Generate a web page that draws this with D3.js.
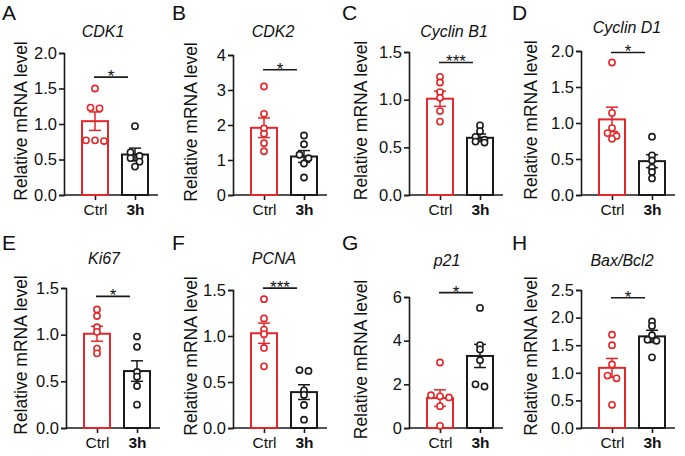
<!DOCTYPE html>
<html><head><meta charset="utf-8">
<script src="https://cdn.jsdelivr.net/npm/d3@7"></script>
<style>body{margin:0;background:#fff} svg{display:block;font-family:"Liberation Sans",Arial,sans-serif}</style>
</head><body><svg width="685" height="456"></svg>
<script>
const panelLetters = ["A","B","C","D","E","F","G","H"];
const genes = ["CDK1","CDK2","Cyclin B1","Cyclin D1","Ki67","PCNA","p21","Bax/Bcl2"];
const groups = ["Ctrl","3h"];
const yMax = [2,4,1.5,2,1.5,1.5,6,2.5];
const yStep = [0.5,1,0.5,0.5,0.5,0.5,2,0.5];
const ctrlMean = [1.04,1.92,1.01,1.05,1.01,1.03,1.37,1.09];
const ctrlSem  = [0.13,0.28,0.08,0.17,0.08,0.11,0.38,0.17];
const h3Mean   = [0.57,1.10,0.60,0.47,0.61,0.39,3.30,1.66];
const h3Sem    = [0.09,0.17,0.04,0.09,0.11,0.08,0.53,0.11];
const ctrlPoints = [
  [1.50,1.23,1.22,0.77,0.77,0.76],
  [3.10,2.32,1.90,1.75,1.48,1.25],
  [1.24,1.18,1.08,1.02,0.88,0.77],
  [1.84,1.14,0.93,0.86,0.82,0.78],
  [1.27,1.20,1.08,1.03,0.85,0.80],
  [1.40,1.19,1.07,1.02,0.87,0.67],
  [3.00,1.50,1.45,1.40,1.00,0.10],
  [1.69,1.50,1.15,0.95,0.90,0.42]];
const h3Points = [
  [0.97,0.60,0.55,0.52,0.47,0.40],
  [1.70,1.45,1.15,1.05,0.90,0.50],
  [0.73,0.67,0.61,0.58,0.56,0.55],
  [0.81,0.55,0.48,0.38,0.32,0.23],
  [0.98,0.87,0.60,0.55,0.45,0.25],
  [0.63,0.62,0.41,0.36,0.25,0.09],
  [5.50,3.80,3.60,3.10,2.00,1.90],
  [1.93,1.85,1.68,1.60,1.58,1.28]];
const sigLabels = ["*","*","***","*","*","***","*","*"];
const sigLevel  = [1.66,3.58,1.39,1.98,1.41,1.52,6.2,2.36];

// layout (positions, not data)
const layout = {
  ox: [0,170,340,510,0,170,340,510],
  oy: [0,0,0,0,228,228,228,228],
  axisX: [64,63,69,71,66,63,69,71],
  yTop: [53,55,52,51,60,62,69,62],
  yBot: [195,195,195,195,200,200,200,200],
  titleDx: [39,40,45,46,38,41,38,41],
  titleY: [37,37,37,33,36,36,38,38],
  letterY: [20,20,20,20,22,22,22,22]
};
const RED = "#e5262a", BLK = "#1a1a1a";
const svg = d3.select("svg");

genes.forEach((gene, i) => {
  const ox = layout.ox[i], oy = layout.oy[i];
  const g = svg.append("g").attr("transform", `translate(${ox},${oy})`);
  const ax = layout.axisX[i];
  const y = d3.scaleLinear().domain([0, yMax[i]]).range([layout.yBot[i], layout.yTop[i]]);
  const x = d3.scalePoint().domain(groups).range([ax + 31, ax + 71]);
  const ticks = d3.range(0, yMax[i] + 1e-9, yStep[i]);
  const fmt = yStep[i] < 1 ? d3.format(".1f") : d3.format("d");

  g.append("text").attr("x", 2).attr("y", layout.letterY[i]).attr("font-size", 21).attr("fill", "#111").text(panelLetters[i]);
  g.append("text").attr("x", ax + layout.titleDx[i]).attr("y", layout.titleY[i])
    .attr("text-anchor", "middle").attr("font-style", "italic").attr("font-size", 16).attr("fill", "#111").text(gene);

  const yAxis = g.append("g").attr("transform", `translate(${ax},0)`)
    .call(d3.axisLeft(y).tickValues(ticks).tickFormat(fmt).tickSize(5).tickPadding(2));
  yAxis.select(".domain").attr("stroke", BLK).attr("stroke-width", 1.6);
  yAxis.selectAll(".tick line").attr("stroke", BLK).attr("stroke-width", 1.6);
  yAxis.selectAll(".tick text").attr("font-size", 16.5).attr("fill", "#111").attr("font-family", "Liberation Sans, Arial, sans-serif");

  const xAxis = g.append("g").attr("transform", `translate(0,${layout.yBot[i]})`)
    .call(d3.axisBottom(x).tickSize(5).tickPadding(4));
  xAxis.select(".domain").attr("d", `M${ax},0H${ax + 94}`).attr("stroke", BLK).attr("stroke-width", 1.6);
  xAxis.selectAll(".tick line").attr("stroke", BLK).attr("stroke-width", 1.6);
  xAxis.selectAll(".tick text").attr("font-size", 15.5).attr("fill", "#111")
    .attr("font-family", "Liberation Sans, Arial, sans-serif")
    .attr("font-weight", d => d === "3h" ? "bold" : "normal");

  const cy = (layout.yTop[i] + layout.yBot[i]) / 2 - 3;
  g.append("text").attr("transform", `translate(27,${cy}) rotate(-90)`)
    .attr("text-anchor", "middle").attr("font-size", 17.5).attr("fill", "#111").text("Relative mRNA level");

  const series = [
    {grp: "Ctrl", mean: ctrlMean[i], sem: ctrlSem[i], pts: ctrlPoints[i], col: RED},
    {grp: "3h", mean: h3Mean[i], sem: h3Sem[i], pts: h3Points[i], col: BLK}
  ];
  const bw = 26;
  series.forEach(s => {
    const cx = x(s.grp);
    g.append("rect").attr("x", cx - bw / 2).attr("y", y(s.mean))
      .attr("width", bw).attr("height", y(0) - y(s.mean))
      .attr("fill", "white").attr("stroke", s.col).attr("stroke-width", 2);
    const eb = g.append("g").attr("stroke", s.col).attr("stroke-width", 1.5);
    eb.append("line").attr("x1", cx).attr("x2", cx).attr("y1", y(s.mean + s.sem)).attr("y2", y(s.mean - s.sem));
    [s.mean + s.sem, s.mean - s.sem].forEach(v =>
      eb.append("line").attr("x1", cx - 6).attr("x2", cx + 6).attr("y1", y(v)).attr("y2", y(v)));
    const sorted = s.pts.slice().sort((a, b) => b - a);
    const rows = [];
    sorted.forEach(v => {
      const last = rows[rows.length - 1];
      if (last && Math.abs(y(v) - y(last[0])) < 4) last.push(v); else rows.push([v]);
    });
    rows.forEach(row => {
      row.forEach((v, k) => {
        const dx = (k - (row.length - 1) / 2) * 9;
        g.append("circle").attr("cx", cx + dx).attr("cy", y(v)).attr("r", 3.1)
          .attr("fill", "white").attr("stroke", s.col).attr("stroke-width", 1.6);
      });
    });
  });

  const sy = y(sigLevel[i]);
  const x1 = x("Ctrl") - 1, x2 = x("3h") - 7;
  g.append("line").attr("x1", x1).attr("x2", x2).attr("y1", sy).attr("y2", sy).attr("stroke", BLK).attr("stroke-width", 1.6);
  g.append("text").attr("x", (x1 + x2) / 2).attr("y", sy + 5).attr("text-anchor", "middle")
    .attr("font-size", 17).attr("fill", "#111").text(sigLabels[i]);
});
</script></body></html>
